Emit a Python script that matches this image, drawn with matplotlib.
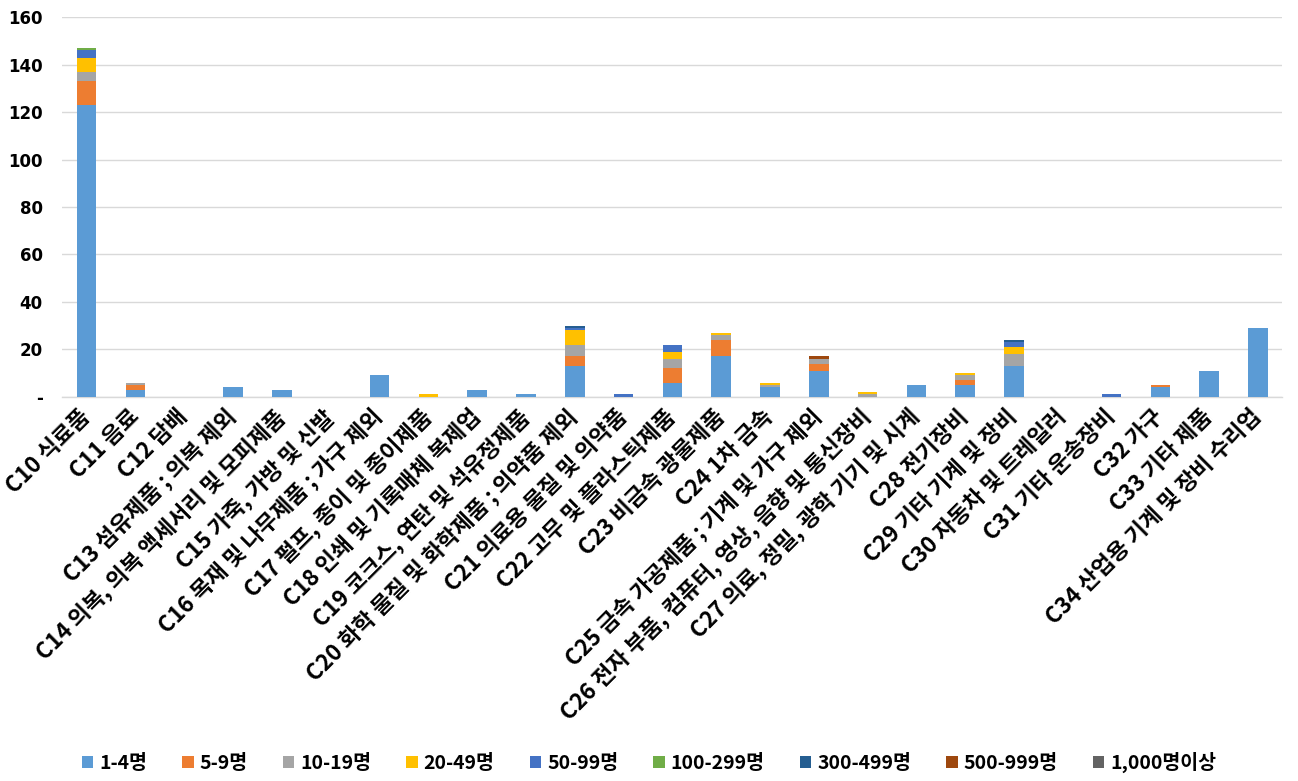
import matplotlib
matplotlib.use("Agg")
import matplotlib.pyplot as plt
import numpy as np
from matplotlib.ticker import FuncFormatter

plt.rcParams['font.family'] = ['Noto Sans CJK KR', 'DejaVu Sans']

categories = [
    "C10 식료품", "C11 음료", "C12 담배", "C13 섬유제품 ; 의복 제외",
    "C14 의복, 의복 액세서리 및 모피제품", "C15 가죽, 가방 및 신발",
    "C16 목재 및 나무제품 ; 가구 제외", "C17 펄프, 종이 및 종이제품",
    "C18 인쇄 및 기록매체 복제업", "C19 코크스, 연탄 및 석유정제품",
    "C20 화학 물질 및 화학제품 ; 의약품 제외", "C21 의료용 물질 및 의약품",
    "C22 고무 및 플라스틱제품", "C23 비금속 광물제품", "C24 1차 금속",
    "C25 금속 가공제품 ; 기계 및 가구 제외",
    "C26 전자 부품, 컴퓨터, 영상, 음향 및 통신장비",
    "C27 의료, 정밀, 광학 기기 및 시계", "C28 전기장비",
    "C29 기타 기계 및 장비", "C30 자동차 및 트레일러", "C31 기타 운송장비",
    "C32 가구", "C33 기타 제품", "C34 산업용 기계 및 장비 수리업",
]

series_names = ["1-4명", "5-9명", "10-19명", "20-49명", "50-99명",
                "100-299명", "300-499명", "500-999명", "1,000명이상"]

#            C10 C11 C12 C13 C14 C15 C16 C17 C18 C19 C20 C21 C22 C23 C24 C25 C26 C27 C28 C29 C30 C31 C32 C33 C34
s_1_4     = [123, 3,  0,  4,  3,  0,  9,  0,  3,  1, 13,  0,  6, 17,  4, 11,  0,  5,  5, 13,  0,  0,  4, 11, 29]
s_5_9     = [10,  2,  0,  0,  0,  0,  0,  0,  0,  0,  4,  0,  6,  7,  0,  3,  0,  0,  2,  0,  0,  0,  1,  0,  0]
s_10_19   = [4,   1,  0,  0,  0,  0,  0,  0,  0,  0,  5,  0,  4,  2,  1,  2,  1,  0,  2,  5,  0,  0,  0,  0,  0]
s_20_49   = [6,   0,  0,  0,  0,  0,  0,  1,  0,  0,  6,  0,  3,  1,  1,  0,  1,  0,  1,  3,  0,  0,  0,  0,  0]
s_50_99   = [3,   0,  0,  0,  0,  0,  0,  0,  0,  0,  1,  1,  3,  0,  0,  0,  0,  0,  0,  2,  0,  1,  0,  0,  0]
s_100_299 = [1,   0,  0,  0,  0,  0,  0,  0,  0,  0,  0,  0,  0,  0,  0,  0,  0,  0,  0,  0,  0,  0,  0,  0,  0]
s_300_499 = [0,   0,  0,  0,  0,  0,  0,  0,  0,  0,  1,  0,  0,  0,  0,  0,  0,  0,  0,  1,  0,  0,  0,  0,  0]
s_500_999 = [0,   0,  0,  0,  0,  0,  0,  0,  0,  0,  0,  0,  0,  0,  0,  1,  0,  0,  0,  0,  0,  0,  0,  0,  0]
s_1000    = [0,   0,  0,  0,  0,  0,  0,  0,  0,  0,  0,  0,  0,  0,  0,  0,  0,  0,  0,  0,  0,  0,  0,  0,  0]

series = [s_1_4, s_5_9, s_10_19, s_20_49, s_50_99, s_100_299, s_300_499, s_500_999, s_1000]
colors = ["#5B9BD5", "#ED7D31", "#A5A5A5", "#FFC000", "#4472C4",
          "#70AD47", "#255E91", "#9E480E", "#636363"]

yticks = [0, 20, 40, 60, 80, 100, 120, 140, 160]

fig = plt.figure(figsize=(12.98, 7.81), dpi=100)
ax = fig.add_axes([0.048, 0.492, 0.940, 0.486])

x = np.arange(len(categories))
bottom = np.zeros(len(categories))
handles = []
for name, vals, col in zip(series_names, series, colors):
    vals = np.array(vals, dtype=float)
    h = ax.bar(x, vals, 0.4, bottom=bottom, color=col, label=name, zorder=3)
    handles.append(h)
    bottom += vals

ax.set_xlim(-0.5, len(categories) - 0.5)
ax.set_ylim(0, 160)
ax.set_yticks(yticks)
ax.yaxis.set_major_formatter(FuncFormatter(lambda v, p: "-" if v == 0 else f"{int(v)}"))
ax.grid(axis='y', color='#D9D9D9', linewidth=1, zorder=0)
for s in ['top', 'right', 'left']:
    ax.spines[s].set_visible(False)
ax.spines['bottom'].set_color('#D9D9D9')
ax.spines['bottom'].set_linewidth(1)
ax.tick_params(axis='both', length=0)
ax.tick_params(axis='y', pad=14)

for lab in ax.get_yticklabels():
    lab.set_fontweight('bold')
    lab.set_fontsize(12)
    lab.set_family(['DejaVu Sans'])

ax.set_xticks(x)
ax.set_xticklabels(categories, rotation=45, ha='right', va='center',
                   rotation_mode='anchor', fontsize=16.2, fontweight='bold')
ax.tick_params(axis='x', pad=12)

leg = fig.legend(handles=handles, labels=series_names, loc='lower center',
                 bbox_to_anchor=(0.5, -0.012), ncol=9, frameon=False,
                 handlelength=0.6, handleheight=0.6, handletextpad=0.3,
                 columnspacing=1.8, prop={'weight': 'bold', 'size': 14})

fig.savefig("out.png", dpi=100)
